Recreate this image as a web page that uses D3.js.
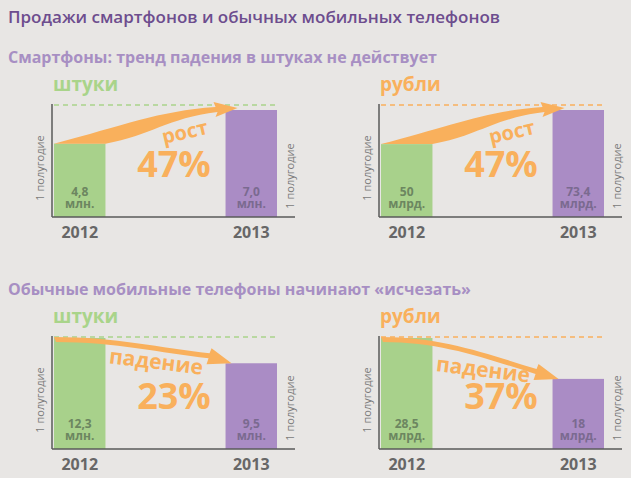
<!DOCTYPE html>
<html>
<head>
<meta charset="utf-8">
<script src="https://cdn.jsdelivr.net/npm/d3@7"></script>
<style>
  body { margin: 0; background: #e8e6e4; }
  text { font-family: "Open Sans", sans-serif; }
</style>
</head>
<body>
<script>
// data
const mainTitle = "Продажи смартфонов и обычных мобильных телефонов";
const sectionTitles = ["Смартфоны: тренд падения в штуках не действует",
                       "Обычные мобильные телефоны начинают «исчезать»"];
const years = ["2012", "2013"];
const panelTitles = ["штуки", "рубли", "штуки", "рубли"];
const values2012 = [4.8, 50, 12.3, 28.5];
const values2013 = [7.0, 73.4, 9.5, 18];
const labels2012 = ["4,8", "50", "12,3", "28,5"];
const labels2013 = ["7,0", "73,4", "9,5", "18"];
const units = ["млн.", "млрд.", "млн.", "млрд."];
const changeWords = ["рост", "рост", "падение", "падение"];
const changePct = ["47%", "47%", "23%", "37%"];
const periodLabel = "1 полугодие";

const W = 631, H = 478;
const green = "#a8d18b", purple = "#aa8cc5", orange = "#f9b05c";

const svg = d3.select("body").append("svg")
    .attr("width", W).attr("height", H);
svg.append("rect").attr("width", W).attr("height", H).attr("fill", "#e8e6e4");

svg.append("text").attr("x", 8).attr("y", 23)
    .attr("font-size", 17).attr("font-weight", 600).attr("fill", "#6d4d8e")
    .text(mainTitle);

const sectionY = [63, 295];
sectionTitles.forEach((t, i) => {
    svg.append("text").attr("x", 8).attr("y", sectionY[i])
        .attr("font-size", 16).attr("font-weight", 700).attr("fill", "#a78fc3")
        .text(t);
});

// layout of the four panels
const axisXs = [52, 379];
const baselines = [217, 449];
const topGap = [5, 1];     // gap between dashed line and top of highest bar

function arrowPath(x0, x1, yA, xT, yB, up) {
    if (up) {
        return `M${x0},${yA} L${x1},${yA}
            C${x1 + 45},${yA - 8} ${xT - 70},${yB + 10} ${xT - 20},${yB + 4}
            L${xT - 22},${yB + 9} L${xT},${yB} L${xT - 24},${yB - 6} L${xT - 22},${yB - 1}
            C${xT - 80},${yB + 3} ${x0 + 70},${yA - 18} ${x0},${yA} Z`;
    }
    const L = xT - x0, d = yB - yA;
    return `M${x0},${yA - 1}
        C${x0 + 0.35 * L},${yA - 1} ${xT - 0.4 * L},${yA + 0.4 * d} ${xT - 22},${yB - 10}
        L${xT - 20},${yB - 15} L${xT},${yB} L${xT - 25},${yB + 1} L${xT - 23},${yB - 5}
        C${xT - 0.4 * L},${yA + 0.4 * d + 5} ${x0 + 0.35 * L},${yA + 4} ${x0 + 2},${yA + 4} Z`;
}

panelTitles.forEach((pt, i) => {
    const row = Math.floor(i / 2), col = i % 2;
    const ax = axisXs[col], base = baselines[row];
    const v0 = values2012[i], v1 = values2013[i];
    const vmax = Math.max(v0, v1);
    const dashY = base - 112;
    const accent = col === 0 ? "#a9d48a" : orange;

    const x = d3.scaleBand().domain(years)
        .range([ax + 2, ax + 225]).paddingInner(0.7).paddingOuter(0);
    const y = d3.scaleLinear().domain([0, vmax])
        .range([base, dashY + topGap[row]]);

    const g = svg.append("g");

    g.append("text").attr("x", ax + 1).attr("y", dashY - 14)
        .attr("font-size", 19).attr("font-weight", 700).attr("fill", accent)
        .text(pt);

    g.append("line")
        .attr("x1", ax + 2).attr("x2", x("2013") + x.bandwidth())
        .attr("y1", dashY).attr("y2", dashY)
        .attr("stroke", accent).attr("stroke-width", 1.5)
        .attr("stroke-dasharray", "5,4");

    const vals = [v0, v1];
    g.selectAll("rect.bar").data(years).join("rect")
        .attr("class", "bar")
        .attr("x", d => x(d))
        .attr("width", x.bandwidth())
        .attr("y", (d, j) => y(vals[j]))
        .attr("height", (d, j) => base - y(vals[j]))
        .attr("fill", (d, j) => j === 0 ? green : purple);

    // axes
    g.append("line").attr("x1", ax).attr("x2", ax)
        .attr("y1", dashY - 1).attr("y2", base)
        .attr("stroke", "#5a5a5a").attr("stroke-width", 1.5);
    const xAxis = d3.axisBottom(x).tickSize(0).tickPadding(10);
    const xg = g.append("g").attr("transform", `translate(0,${base})`).call(xAxis);
    xg.select(".domain").remove();
    g.append("line").attr("x1", ax).attr("x2", ax + 243)
        .attr("y1", base).attr("y2", base)
        .attr("stroke", "#5a5a5a").attr("stroke-width", 1.5);
    xg.selectAll(".tick text")
        .attr("font-family", "Open Sans, sans-serif")
        .attr("font-size", 16).attr("font-weight", 700).attr("fill", "#676767");

    // value labels inside bars (two lines in one text)
    const labs = [labels2012[i], labels2013[i]];
    years.forEach((yr, j) => {
        const cx = x(yr) + x.bandwidth() / 2;
        const c = j === 0 ? "#6c8660" : "#7a6a90";
        const t = g.append("text").attr("x", cx).attr("y", base - 21)
            .attr("text-anchor", "middle").attr("font-size", 12)
            .attr("font-weight", 700).attr("fill", c);
        t.append("tspan").attr("x", cx).text(labs[j]);
        t.append("tspan").attr("x", cx).attr("dy", 12).text(units[i]);
    });

    // "1 полугодие" side labels
    [[ax - 12, base - 49], [ax + 238, base - 41]].forEach(p => {
        g.append("text")
            .attr("transform", `translate(${p[0]},${p[1]}) rotate(-90)`)
            .attr("text-anchor", "middle").attr("dy", "0.35em")
            .attr("font-size", 11).attr("fill", "#7a7a7a")
            .text(periodLabel);
    });

    // arrow
    const up = v1 > v0;
    const xL = x("2012"), xR = x("2012") + x.bandwidth();
    const xP = x("2013");
    const xT = up ? xP + 12 : xP + 6;
    const yT = up ? y(v1) - 2 : y(v1);
    g.append("path")
        .attr("d", arrowPath(xL, xR, y(v0), xT, yT, up))
        .attr("fill", orange);

    // change texts; the falling word sits just under the arrow
    const wordY = up ? base - 84 : (y(v0) + y(v1)) / 2 + 12;
    g.append("text")
        .attr("transform", up
            ? `translate(${ax + 133},${wordY}) rotate(-13)`
            : `translate(${ax + 104},${wordY}) rotate(7)`)
        .attr("text-anchor", "middle").attr("dy", "0.3em")
        .attr("font-size", up ? 20 : 21).attr("font-weight", 700).attr("fill", orange)
        .text(changeWords[i]);
    g.append("text").attr("x", ax + 122).attr("y", base - 40)
        .attr("text-anchor", "middle")
        .attr("font-size", 36).attr("font-weight", 700).attr("fill", orange)
        .text(changePct[i]);
});
</script>
</body>
</html>
